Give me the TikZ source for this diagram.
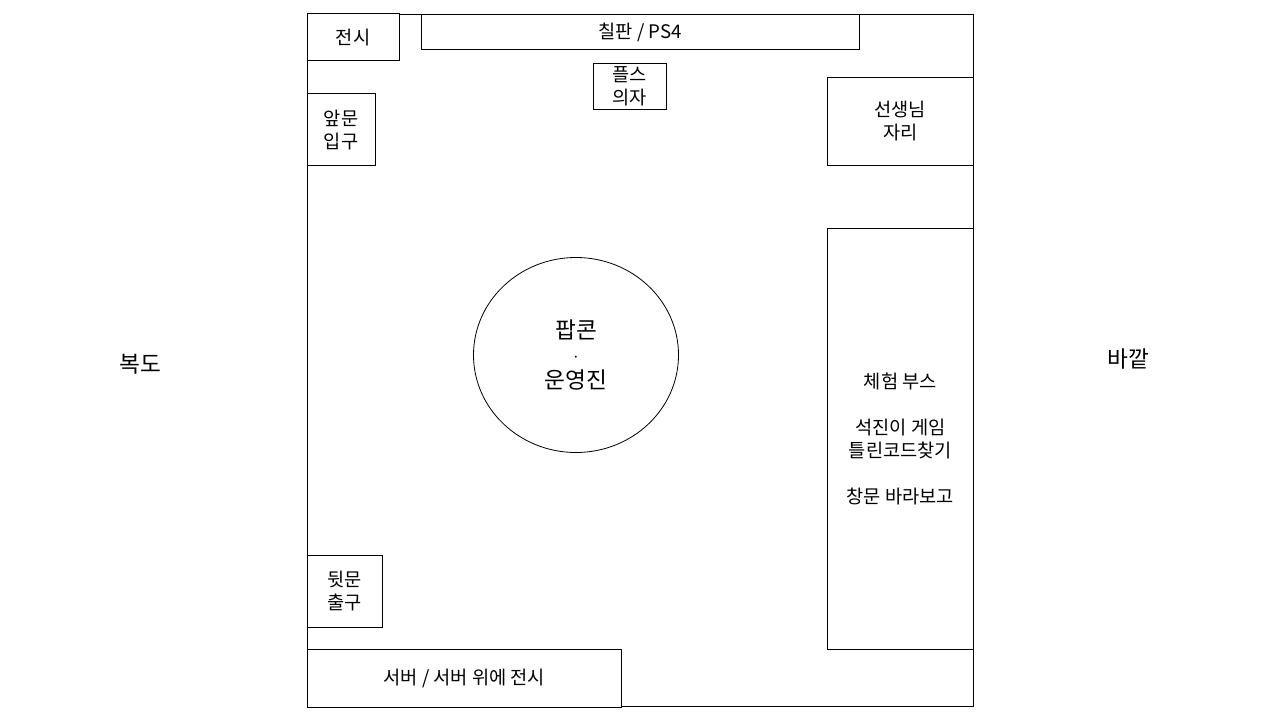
\documentclass[tikz,border=0pt]{standalone}
\usepackage{fontspec}
\usetikzlibrary{shapes.geometric}
\setmainfont{Noto Sans CJK KR}
\tikzset{
 box/.style={draw=black,line width=0.6pt,fill=white,align=center,inner sep=0pt,outer sep=0pt,font=\fontsize{14}{17.2}\selectfont,anchor=north west},
 free/.style={align=center,inner sep=0pt,font=\fontsize{17}{20}\selectfont}
}
\newcommand{\rbox}[6]{\node[box,minimum width=#4*1pt,minimum height=#5*1pt] (#1) at (#2pt,-#3pt) {#6};}
\begin{document}
\begin{tikzpicture}[x=1pt,y=1pt]
\useasboundingbox (0,0) rectangle (960,-540);
\node[draw=black,line width=0.6pt,minimum width=499.5pt,minimum height=519pt,inner sep=0pt,outer sep=0pt,anchor=north west] (room) at (230.25pt,-10.5pt) {};
\rbox{jeonsi}{230.25}{10.25}{69}{35.25}{전시}
\rbox{board}{316}{11}{328.5}{26}{칠판 / PS4}
\rbox{plus}{445}{47.5}{54.75}{34.5}{플스\\의자}
\rbox{front}{230.25}{70.25}{51}{54}{앞문\\입구}
\rbox{teacher}{620.5}{58}{109.5}{66}{선생님\\자리}
\rbox{booth}{620.5}{171.25}{109.5}{316}{체험 부스\\[17pt]석진이 게임\\틀린코드찾기\\[17pt]창문 바라보고}
\rbox{back}{230.25}{416.5}{56.25}{54}{뒷문\\출구}
\rbox{server}{230.25}{487}{236}{43.5}{서버 / 서버 위에 전시}
\node[draw=black,line width=0.6pt,ellipse,minimum width=153.75pt,minimum height=146.25pt,inner sep=0pt,outer sep=0pt,align=center,font=\fontsize{17}{21}\selectfont] (popcorn) at (432pt,-266.25pt) {팝콘\\[-3pt]{\fontsize{11}{11}\selectfont ·}\\[-1pt]운영진};
\node[free] (hall) at (105pt,-273pt) {복도};
\node[free] (out) at (846pt,-269pt) {바깥};
\end{tikzpicture}
\end{document}
